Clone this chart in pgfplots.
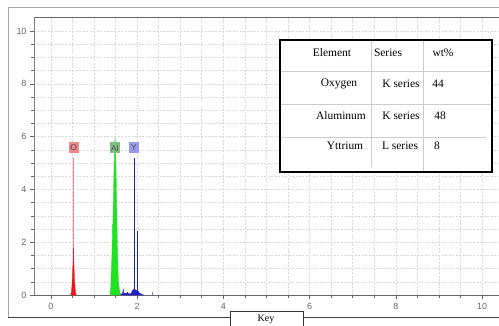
\documentclass[border=0pt]{standalone}
\usepackage{pgfplots}
\pgfplotsset{compat=1.18}
\usepackage{fontspec}
\setmainfont{Liberation Serif}
\newfontfamily\arial{Liberation Sans}
\definecolor{tickgray}{HTML}{666666}
\definecolor{gridgray}{HTML}{D8D8D8}
\definecolor{ored}{HTML}{E8191E}
\definecolor{opink}{HTML}{F08898}
\definecolor{algreen}{HTML}{22E022}
\definecolor{yblue}{HTML}{2020C8}
\definecolor{olab}{HTML}{EE8888}
\definecolor{allab}{HTML}{7FBF7F}
\definecolor{ylab}{HTML}{9999EE}
\begin{document}
\begin{tikzpicture}[x=1bp,y=1bp]
\useasboundingbox (0,0) rectangle (499,325);
\begin{axis}[
  at={(34bp,30bp)}, anchor=south west,
  scale only axis, width=467.4bp, height=278bp,
  xmin=-0.39, xmax=10.45, ymin=0, ymax=10.53,
  xtick={0,2,4,6,8,10}, ytick={0,2,4,6,8,10},
  minor tick num=3,
  tick align=outside, xtick pos=bottom, ytick pos=left,
  major tick length=4bp, minor tick length=3bp,
  tick style={tickgray, line width=0.5pt},
  grid=both,
  major grid style={gridgray, dash pattern=on 2pt off 1.5pt, line width=0.5pt},
  minor grid style={gridgray, dash pattern=on 2pt off 1.5pt, line width=0.5pt},
  axis line style={gray, line width=0.6pt},
  separate axis lines,
  x axis line style={tickgray},
  ticklabel style={font=\arial\fontsize{9}{10}\selectfont, text=tickgray},
  xticklabel style={yshift=-1bp},
  /pgf/number format/assume math mode=true,
  clip=true,
]
% marker lines
\addplot[draw=opink, line width=1.2pt, mark=none] coordinates {(0.53,0) (0.53,5.2)};
\addplot[draw=yblue, line width=0.5pt, mark=none] coordinates {(1.93,0) (1.93,5.2)};
\addplot[draw=yblue, line width=0.5pt, mark=none] coordinates {(2.0,0) (2.0,2.42)};
% O peak
\addplot[ored, fill=ored, line width=0.3pt] coordinates {
(0.46,0) (0.48,0.15) (0.49,0.35) (0.50,0.7) (0.51,1.1) (0.515,1.0) (0.52,1.5) (0.525,1.82)
(0.53,1.6) (0.535,1.3) (0.54,1.05) (0.55,0.6) (0.56,0.35) (0.57,0.15) (0.59,0)} \closedcycle;
% Al peak
\addplot[algreen, fill=algreen, line width=0.3pt] coordinates {
(1.37,0) (1.39,0.3) (1.40,0.8) (1.42,1.6) (1.43,2.65) (1.44,2.7) (1.45,3.6) (1.46,4.4)
(1.47,5.0) (1.48,5.6) (1.49,5.98) (1.50,5.7) (1.51,5.0) (1.52,4.2) (1.53,3.2) (1.54,2.3)
(1.55,1.5) (1.56,0.9) (1.57,0.5) (1.59,0.2) (1.62,0)} \closedcycle;
% Y / background
\addplot[yblue, fill=yblue, line width=0.3pt] coordinates {
(1.62,0) (1.64,0.05) (1.66,0.04) (1.68,0.22) (1.69,0.05) (1.72,0.08) (1.75,0.06) (1.78,0.1)
(1.80,0.05) (1.84,0.04) (1.87,0.08) (1.89,0.15) (1.91,0.2) (1.93,0.22) (1.95,0.18) (1.97,0.2)
(1.99,0.16) (2.01,0.12) (2.03,0.14) (2.05,0.08) (2.08,0.05) (2.12,0.02) (2.15,0)} \closedcycle;
\addplot[yblue!60, line width=0.5pt] coordinates {(2.35,0) (2.35,0.12)};
% element labels
\node[fill=olab, inner sep=1.2bp, minimum width=10bp, minimum height=11bp, font=\arial\fontsize{8.5}{9}\selectfont, text=black!70] at (axis cs:0.53,5.57) {O};
\node[fill=allab, inner sep=1.2bp, minimum width=10bp, minimum height=11bp, font=\arial\fontsize{8.5}{9}\selectfont, text=black!70] at (axis cs:1.485,5.57) {Al};
\node[fill=ylab, inner sep=1.2bp, minimum width=10bp, minimum height=11bp, font=\arial\fontsize{8.5}{9}\selectfont, text=black!70] at (axis cs:1.93,5.57) {Y};
\node[anchor=south west, inner sep=0pt, font=\arial\fontsize{8.5}{9}\selectfont, text=tickgray] at (rel axis cs:0,1) [xshift=2bp, yshift=0.5bp] {cps/eV};
\end{axis}
% outer frame
\draw[gray!70, line width=0.8pt] (8,8) -- (8,318) -- (499,318);
\draw[black!75, line width=0.8pt] (8,8) -- (230,8);
\draw[black!75, line width=0.8pt] (303,8) -- (499,8);
\draw[black!80, line width=0.7pt] (230,-2) -- (230,14) -- (303,14) -- (303,-2);
\node[font=\fontsize{10}{11}\selectfont, inner sep=0pt] at (266,6) {Key};
% table
\fill[white] (280,153) rectangle (492,285);
\draw[gray!40, line width=0.6pt] (280,254) -- (492,254);
\draw[gray!40, line width=0.6pt] (280,221) -- (492,221);
\draw[gray!40, line width=0.6pt] (280,188) -- (486,188);
\draw[gray!40, line width=0.6pt] (371,285) -- (371,158);
\draw[gray!40, line width=0.6pt] (423,285) -- (423,153);
\draw[black, line width=2.8pt] (280,153) rectangle (492,285);
\begin{scope}[every node/.style={font=\fontsize{11.5}{13}\selectfont, inner sep=0pt}]
\node at (332,272) {Element};
\node at (388,272) {Series};
\node at (443,272) {wt\%};
\node at (339,241) {Oxygen};
\node at (401,241) {K series};
\node at (438,241) {44};
\node at (341,209) {Aluminum};
\node at (401,209) {K series};
\node at (440,209) {48};
\node at (345,179) {Yttrium};
\node at (400,179) {L series};
\node at (437,179) {8};
\end{scope}
\end{tikzpicture}
\end{document}
